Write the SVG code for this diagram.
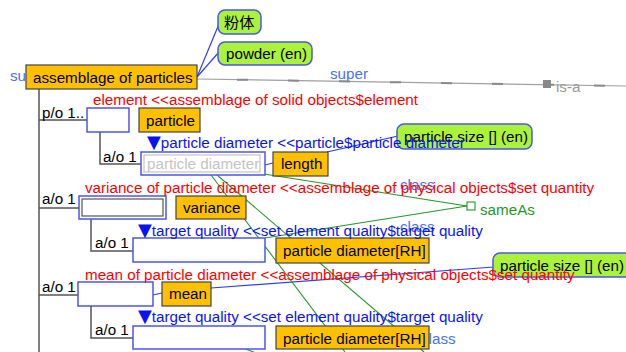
<svg xmlns="http://www.w3.org/2000/svg" width="626" height="352" viewBox="0 0 626 352">
  <style>
    text { font-family: "Liberation Sans", Arial, sans-serif; font-size: 15.2px; }
    .tri { font-family: "DejaVu Sans", sans-serif; font-size: 18px; }
    .box { fill: #ffc000; stroke: #444; stroke-width: 1.2; }
    .slot { fill: #fff; stroke: #4b55f0; stroke-width: 1.5; }
    .callout { fill: #abf23b; stroke: #4b55f0; stroke-width: 1.5; }
    .tree { fill: none; stroke: #555; stroke-width: 1.5; }
    .blue-link { stroke: #2f3ef0; stroke-width: 1.2; fill: none; }
    .green-link { stroke: #22992a; stroke-width: 1.1; fill: none; }
    .lbl { fill: #000; }
    .role { fill: #ff0000; }
    .prop { fill: #0a14f0; }
    .rel { fill: #4a72f0; }
    .faded { fill: #c4c4c4; }
  </style>

  <!-- relation labels that sit underneath boxes -->
  <g id="relation-labels">
    <text class="rel" x="10" y="81">super</text>
    <text class="rel" x="330" y="79">super</text>
    <text class="rel" x="400" y="190">class</text>
    <text class="rel" x="400" y="232">class</text>
    <text class="rel" x="421" y="344">class</text>
  </g>

  <g id="connectors">
    <!-- is-a line -->
    <line x1="197" y1="79" x2="626" y2="86" stroke="#a0a0a0" stroke-width="1.2"/>
    <line x1="197" y1="79" x2="626" y2="86" stroke="#8a8a8a" stroke-width="2" stroke-dasharray="0 40 11 0"/>
    <rect x="543" y="80" width="8" height="8" fill="#888"/>
    <text x="556" y="92" fill="#999">is-a</text>

    <!-- part/attribute tree -->
    <path class="tree" d="M39 89 V352 M39 120 H87 M39 208 H79 M39 295 H78"/>
    <path class="tree" d="M100 132 V164 H141"/>
    <path class="tree" d="M91 219 V251 H133"/>
    <path class="tree" d="M91 306 V338 H133"/>

    <!-- label links -->
    <line class="blue-link" x1="197" y1="77" x2="219" y2="24"/>
    <line class="blue-link" x1="197" y1="77" x2="219" y2="52"/>
    <line class="blue-link" x1="265" y1="165" x2="273" y2="163"/>
    <line class="blue-link" x1="327" y1="152" x2="398" y2="136"/>
    <line class="blue-link" x1="153" y1="295" x2="162" y2="293"/>
    <line class="blue-link" x1="211" y1="288" x2="494" y2="267"/>

    <!-- sameAs / class links -->
    <line class="green-link" x1="264" y1="174" x2="467" y2="206"/>
    <line class="green-link" x1="265" y1="238" x2="467" y2="206"/>
    <line class="green-link" x1="211" y1="175" x2="345" y2="352"/>
    <line class="green-link" x1="217" y1="175" x2="424" y2="352"/>
    <line class="green-link" x1="243" y1="348" x2="256" y2="353"/>
    <rect x="467" y="202" width="8" height="8" fill="#fff" stroke="#22992a" stroke-width="1.1"/>
    <text x="480" y="215" fill="#1f9a24">sameAs</text>
  </g>

  <g id="assemblage-of-particles">
    <rect class="box" x="26" y="65" width="171" height="24"/>
    <text class="lbl" x="33" y="83">assemblage of particles</text>
  </g>

  <g id="label-ja">
    <rect class="callout" x="218" y="10" width="43" height="24" rx="7"/>
    <text class="lbl" x="224" y="28" style="font-family: 'Noto Sans CJK JP', 'Noto Sans CJK SC', sans-serif;">粉体</text>
  </g>

  <g id="label-en">
    <rect class="callout" x="218" y="42" width="94" height="23" rx="7"/>
    <text class="lbl" x="226" y="59">powder (en)</text>
  </g>

  <g id="element-slot">
    <rect class="slot" x="87" y="108" width="42" height="24"/>
  </g>

  <g id="particle">
    <rect class="box" x="139" y="108" width="61" height="24"/>
    <text class="lbl" x="146" y="126">particle</text>
  </g>

  <g id="particle-diameter-slot">
    <rect class="slot" x="141" y="152" width="124" height="23"/>
    <rect x="144" y="155" width="116" height="17" fill="#fff" stroke="#c4c4c4" stroke-width="1.2"/>
    <text class="faded" x="147" y="169">particle diameter</text>
  </g>

  <g id="length">
    <rect class="box" x="273" y="152" width="55" height="24"/>
    <text class="lbl" x="281" y="169">length</text>
  </g>

  <g id="particle-size-label-1">
    <rect class="callout" x="397" y="124" width="135" height="25" rx="7"/>
    <text class="lbl" x="404" y="142">particle size [] (en)</text>
  </g>

  <g id="variance-slot">
    <rect class="slot" x="79" y="196" width="87" height="23"/>
    <rect x="82" y="199" width="81" height="17" fill="#fff" stroke="#555" stroke-width="1.2"/>
  </g>

  <g id="variance">
    <rect class="box" x="176" y="196" width="70" height="23"/>
    <text class="lbl" x="183" y="213">variance</text>
  </g>

  <g id="target-quality-slot-1">
    <rect class="slot" x="133" y="238" width="132" height="24"/>
  </g>

  <g id="particle-diameter-rh-1">
    <rect class="box" x="276" y="238" width="153" height="25"/>
    <text class="lbl" x="283" y="256">particle diameter[RH]</text>
  </g>

  <g id="mean-slot">
    <rect class="slot" x="78" y="282" width="75" height="24"/>
  </g>

  <g id="mean">
    <rect class="box" x="162" y="282" width="49" height="24"/>
    <text class="lbl" x="169" y="299">mean</text>
  </g>

  <g id="particle-size-label-2">
    <rect class="callout" x="493" y="253" width="140" height="24" rx="7"/>
    <text class="lbl" x="500" y="271">particle size [] (en)</text>
  </g>

  <g id="target-quality-slot-2">
    <rect class="slot" x="133" y="326" width="132" height="23"/>
  </g>

  <g id="particle-diameter-rh-2">
    <rect class="box" x="276" y="326" width="153" height="23"/>
    <text class="lbl" x="283" y="344">particle diameter[RH]</text>
  </g>

  <!-- slot role texts, painted over the label callouts -->
  <g id="slot-labels">
    <text class="role" x="93" y="105">element &lt;&lt;assemblage of solid objects$element</text>
    <text class="lbl" x="42" y="118">p/o 1..</text>
    <text class="prop" x="147" y="148"><tspan class="tri">▼</tspan>particle diameter &lt;&lt;particle$particle diameter</text>
    <text class="lbl" x="103" y="162">a/o 1</text>
    <text class="role" x="85" y="193">variance of particle diameter &lt;&lt;assemblage of physical objects$set quantity</text>
    <text class="lbl" x="42" y="204">a/o 1</text>
    <text class="prop" x="138" y="236"><tspan class="tri">▼</tspan>target quality &lt;&lt;set element quality$target quality</text>
    <text class="lbl" x="95" y="248">a/o 1</text>
    <text class="role" x="85" y="280">mean of particle diameter &lt;&lt;assemblage of physical objects$set quantity</text>
    <text class="lbl" x="42" y="292">a/o 1</text>
    <text class="prop" x="138" y="322"><tspan class="tri">▼</tspan>target quality &lt;&lt;set element quality$target quality</text>
    <text class="lbl" x="95" y="335">a/o 1</text>
  </g>
</svg>
